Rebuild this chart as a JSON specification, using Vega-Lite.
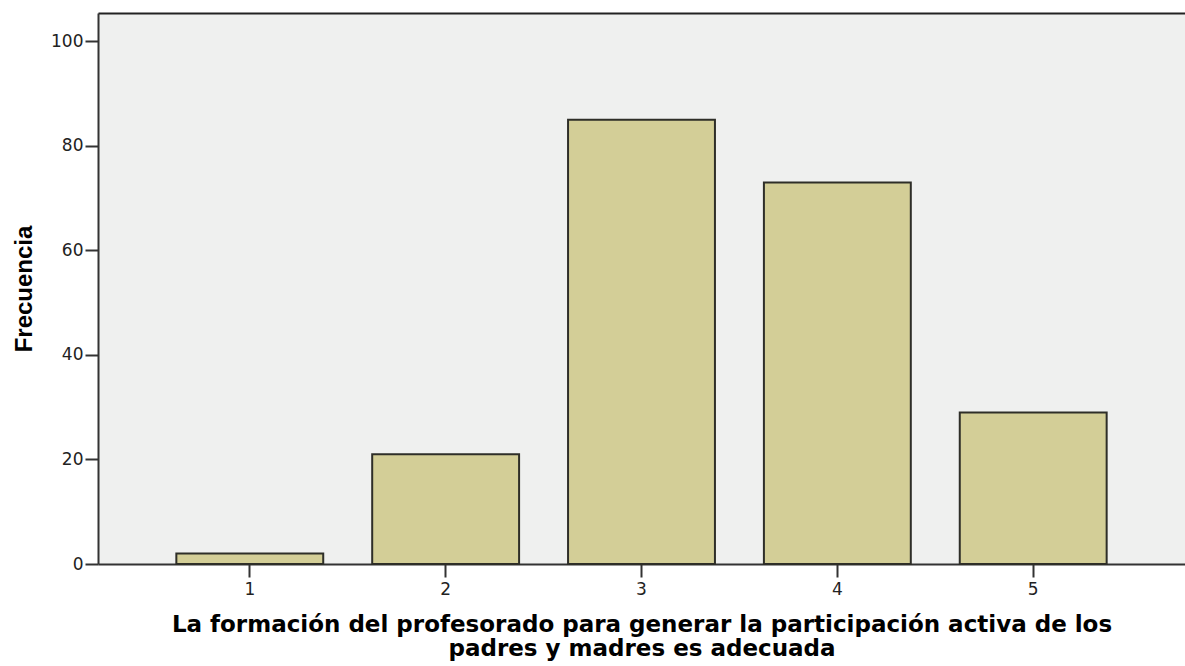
{
  "$schema": "https://vega.github.io/schema/vega-lite/v6.json",
  "width": 1087,
  "height": 551,
  "autosize": "none",
  "padding": {"left": 98, "top": 13, "right": 0, "bottom": 102},
  "background": "white",
  "config": {"view": {"fill": "#eff0ef", "stroke": null}},
  "data": {
    "values": [
      {"valor": "1", "frecuencia": 2},
      {"valor": "2", "frecuencia": 21},
      {"valor": "3", "frecuencia": 85},
      {"valor": "4", "frecuencia": 73},
      {"valor": "5", "frecuencia": 29}
    ]
  },
  "layer": [
    {
      "mark": {"type": "bar", "fill": "#d3ce97", "stroke": "#2e2e28", "strokeWidth": 2},
      "encoding": {
        "x": {
          "field": "valor",
          "type": "ordinal",
          "sort": null,
          "scale": {"paddingInner": 0.25, "paddingOuter": 0.4},
          "axis": {
            "orient": "bottom",
            "title": ["La formación del profesorado para generar la participación activa de los", "padres y madres es adecuada"],
            "labelAngle": 0,
            "tickSize": 13,
            "tickWidth": 2,
            "tickColor": "#333333",
            "domainColor": "#333333",
            "domainWidth": 2,
            "labelPadding": 4,
            "labelFont": "DejaVu Sans",
            "labelFontSize": 17,
            "labelColor": "#222222",
            "titleFont": "DejaVu Sans",
            "titleFontSize": 23,
            "titleFontWeight": "bold",
            "titleColor": "#000000",
            "titleLineHeight": 24,
            "titlePadding": 16
          }
        },
        "y": {
          "field": "frecuencia",
          "type": "quantitative",
          "scale": {"domain": [0, 105.4], "nice": false},
          "axis": {
            "values": [0, 20, 40, 60, 80, 100],
            "grid": false,
            "tickSize": 13,
            "tickWidth": 2,
            "tickColor": "#333333",
            "domainColor": "#333333",
            "domainWidth": 2,
            "labelPadding": 2,
            "labelFont": "DejaVu Sans",
            "labelFontSize": 17,
            "labelColor": "#222222",
            "title": "Frecuencia",
            "titleFont": "Liberation Sans",
            "titleFontSize": 24,
            "titleFontWeight": "bold",
            "titleColor": "#000000",
            "titlePadding": 14
          }
        }
      }
    },
    {
      "mark": {"type": "bar", "opacity": 0},
      "encoding": {
        "x": {
          "field": "valor",
          "type": "ordinal",
          "sort": null,
          "axis": {
            "orient": "top",
            "title": null,
            "labels": false,
            "ticks": false,
            "domain": true,
            "domainColor": "#222222",
            "domainWidth": 2
          }
        }
      }
    }
  ],
  "resolve": {"axis": {"x": "independent"}}
}
